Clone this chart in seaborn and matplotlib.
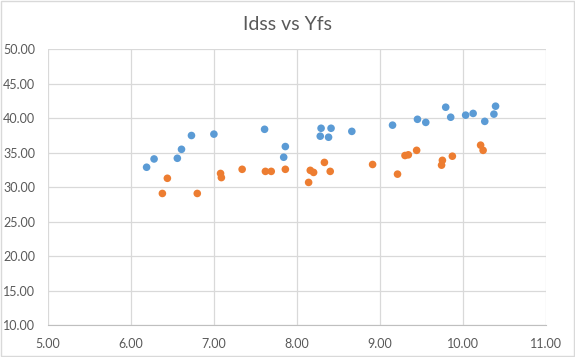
import matplotlib
matplotlib.use("Agg")
import matplotlib.pyplot as plt
import seaborn as sns
import pandas as pd
from matplotlib.patches import Rectangle

# values
yfs_1 = [6.19, 6.28, 6.56, 6.61, 6.73, 7.00, 7.61, 7.86, 7.84, 8.29, 8.41, 8.28,
         8.38, 8.66, 9.15, 9.45, 9.55, 9.79, 9.85, 10.03, 10.12, 10.26, 10.37, 10.39]
idss_1 = [32.9, 34.1, 34.2, 35.5, 37.5, 37.7, 38.4, 35.9, 34.35, 38.55, 38.55, 37.4,
          37.25, 38.1, 39.0, 39.85, 39.4, 41.6, 40.15, 40.45, 40.7, 39.55, 40.6, 41.75]
yfs_2 = [6.44, 6.38, 6.80, 7.08, 7.09, 7.34, 7.62, 7.69, 7.86, 8.16, 8.20, 8.14,
         8.33, 8.40, 8.91, 9.21, 9.30, 9.34, 9.44, 9.75, 9.74, 9.87, 10.21, 10.24]
idss_2 = [31.3, 29.1, 29.1, 32.0, 31.4, 32.6, 32.3, 32.3, 32.6, 32.45, 32.15, 30.7,
          33.6, 32.3, 33.3, 31.9, 34.6, 34.7, 35.35, 33.9, 33.2, 34.5, 36.1, 35.35]

df = pd.concat([
    pd.DataFrame({"Yfs": yfs_1, "Idss": idss_1, "series": "Series1"}),
    pd.DataFrame({"Yfs": yfs_2, "Idss": idss_2, "series": "Series2"}),
])

sns.set_style("white")
plt.rcParams["font.family"] = ["Lato", "DejaVu Sans"]

fig = plt.figure(figsize=(5.75, 3.57), dpi=100)
ax = fig.add_axes([0.083, 0.089, 0.867, 0.773])

sns.scatterplot(data=df, x="Yfs", y="Idss", hue="series",
                palette=["#5B9BD5", "#ED7D31"], s=30, edgecolor="none",
                legend=False, ax=ax, zorder=3)

ax.set_xlim(5, 11)
ax.set_ylim(10, 50)
ax.set_xticks(range(5, 12))
ax.set_yticks(range(10, 51, 5))
ax.xaxis.set_major_formatter(lambda v, p: f"{v:.2f}")
ax.yaxis.set_major_formatter(lambda v, p: f"{v:.2f}")
ax.grid(True, color="#D9D9D9", linewidth=0.9)
ax.set_axisbelow(True)
for s in ax.spines.values():
    s.set_visible(False)
ax.spines["bottom"].set_visible(True)
ax.spines["bottom"].set_color("#BFBFBF")
ax.tick_params(length=0, labelsize=9, colors="#595959")
ax.tick_params(axis="x", pad=9)
ax.tick_params(axis="y", pad=9)
ax.set_xlabel("")
ax.set_ylabel("")

fig.text(0.5, 0.93, "Idss vs Yfs", ha="center", va="center",
         fontsize=14, color="#595959")
fig.patches.append(Rectangle((0.001, 0.002), 0.997, 0.995, transform=fig.transFigure,
                             fill=False, edgecolor="#D9D9D9", linewidth=1))

fig.savefig("out.png", dpi=100)
